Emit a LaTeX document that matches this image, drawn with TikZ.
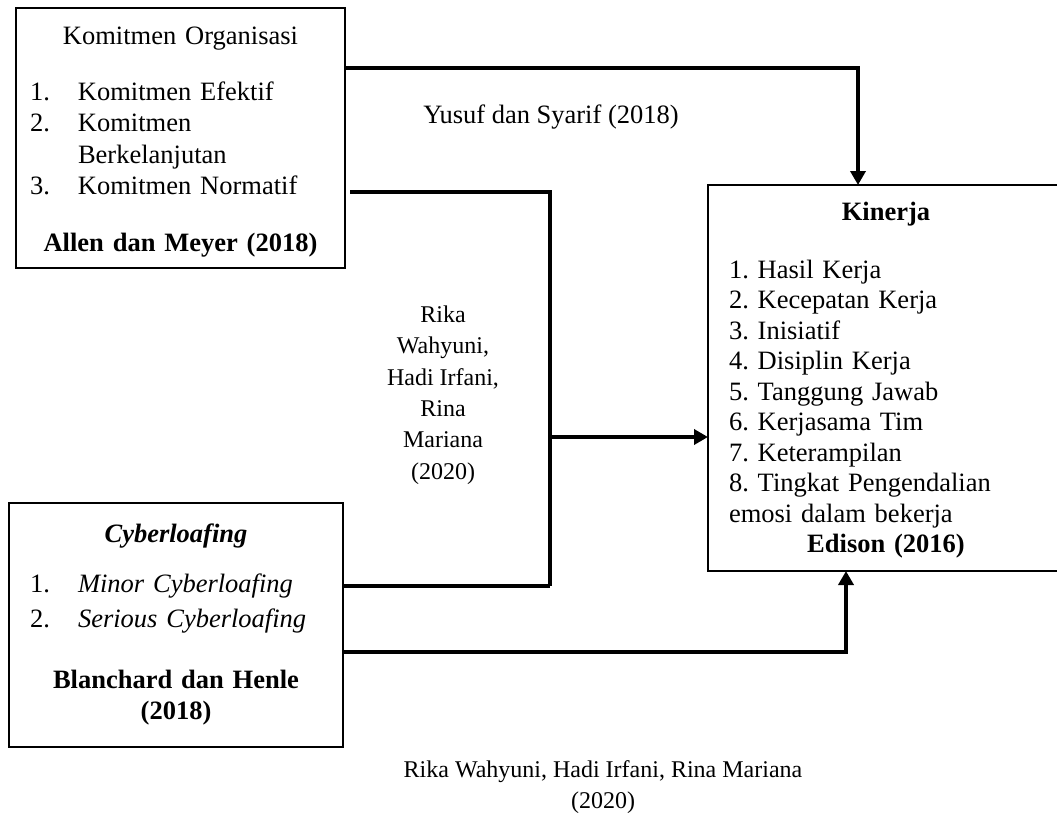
\documentclass[tikz,border=0pt]{standalone}
\usepackage{fontspec}
\setmainfont{Liberation Serif}
\usetikzlibrary{arrows.meta,calc}
\frenchspacing

\newcommand{\itm}[2]{{\raggedright\hangindent=48pt\hangafter=1\noindent\makebox[48pt][l]{#1}#2\par}}

\begin{document}
\begin{tikzpicture}[x=1pt,y=-1pt,
		box/.style={draw,line width=2pt,anchor=north west,outer sep=0pt,inner ysep=0pt,
			font=\fontsize{26.5}{31.4}\selectfont},
		lbl/.style={font=\fontsize{24}{31.4}\selectfont,inner sep=0pt},
		conn/.style={line width=3.5pt},
		arr/.style={conn,-{Triangle[length=14pt,width=15pt]}}]
		\useasboundingbox (0,0) rectangle (1057,816);

		\node[box,inner xsep=14pt,text width=301pt,text height=37pt,text depth=223pt] at (16,8) (komit) {%
			\centering Komitmen Organisasi\par
			\vspace{24pt}
			\itm{1.}{Komitmen Efektif}
			\itm{2.}{Komitmen\newline Berkelanjutan}
			\itm{3.}{Komitmen Normatif}
			\vspace{26pt}
			\centering\textbf{Allen dan Meyer (2018)}\par};

		\node[box,inner xsep=21pt,text width=292pt,text height=39pt,text depth=205pt] at (9,503) (cyber) {%
			\centering\textbf{\textit{Cyberloafing}}\par
			\vspace{18.6pt}
			\itm{1.}{\textit{Minor Cyberloafing}}
			\vspace{3.6pt}
			\itm{2.}{\textit{Serious Cyberloafing}}
			\vspace{29.6pt}
			\centering\textbf{Blanchard dan Henle\\(2018)}\par};

		\node[box,font=\fontsize{26.5}{30.5}\selectfont,inner xsep=21pt,text width=314pt,text height=35pt,text depth=351pt] at (708,185) (kiner) {%
			\centering\textbf{Kinerja}\par
			\vspace{27.5pt}
			\raggedright
			1. Hasil Kerja\par
			2. Kecepatan Kerja\par
			3. Inisiatif\par
			4. Disiplin Kerja\par
			5. Tanggung Jawab\par
			6. Kerjasama Tim\par
			7. Keterampilan\par
			8. Tingkat Pengendalian\par
			emosi dalam bekerja\par
			\centering\textbf{Edison (2016)}\par};

		% labels
		\node[lbl,anchor=base,font=\fontsize{26.5}{31.4}\selectfont] at (551,123) (yusuf) {Yusuf dan Syarif (2018)};
		\node[lbl,align=center] at (443,395) (rika) {Rika\\Wahyuni,\\Hadi Irfani,\\Rina\\Mariana\\(2020)};
		\node[lbl,align=center] at (603,787) (rikab) {Rika Wahyuni, Hadi Irfani, Rina Mariana\\(2020)};

		% bend points
		\coordinate (t1) at (858,68);
		\coordinate (jtop) at (550,192);
		\coordinate (jbot) at (550,586);
		\coordinate (jmid) at (552,437);
		\coordinate (b1) at (846,652);

		% draw edges
		\draw[arr] (komit.east |- t1) -| (t1 |- kiner.north);
		\draw[conn] ($(komit.east |- jtop)+(5,0)$) -- (jtop) -- (jbot);
		\draw[conn] (cyber.east |- jbot) -- (jbot);
		\draw[arr] (jmid) -- (kiner.west |- jmid);
		\draw[arr] (cyber.east |- b1) -| (b1 |- kiner.south);
\end{tikzpicture}
\end{document}
